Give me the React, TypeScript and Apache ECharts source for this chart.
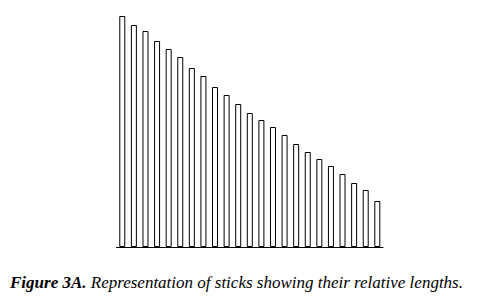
import React, { useEffect, useRef } from "react";
import * as echarts from "echarts";

const stickLabels: string[] = Array.from({ length: 23 }, (_, i) => `S${i + 1}`);
const stickLengths: number[] = [
  231, 222, 216, 206, 198, 190, 179, 171, 160, 152, 143, 134, 127, 120, 112, 103, 95, 88, 81, 73, 64, 57, 46,
];
const captionBold = "Figure 3A.";
const captionText = " Representation of sticks showing their relative lengths.";

const SERIF = "Liberation Serif";

function measure(text: string, font: string): number {
  const c = document.createElement("canvas").getContext("2d");
  if (!c) return text.length * 7;
  c.font = font;
  return c.measureText(text).width;
}

export default function App() {
  const ref = useRef<HTMLDivElement>(null);
  useEffect(() => {
    if (!ref.current) return;
    const chart = echarts.init(ref.current, undefined, { renderer: "svg" });
    // choose font size so the caption spans the same width as in the reference
    const target = 453;
    const base = 15;
    const w0 =
      measure(captionBold, `italic bold ${base}px "${SERIF}"`) +
      measure(captionText, `italic normal ${base}px "${SERIF}"`);
    const fs = Math.max(12, Math.min(18, (base * target) / (w0 || target)));
    const boldW = measure(captionBold, `italic bold ${fs}px "${SERIF}"`);
    const top = 289 - fs * 0.891 + 0.5;
    chart.setOption({
      animation: false,
      backgroundColor: "#ffffff",
      graphic: [
        {
          type: "text",
          left: 10,
          top: top,
          style: {
            text: captionBold,
            fontFamily: SERIF,
            fontStyle: "italic",
            fontWeight: "bold",
            fontSize: fs,
            fill: "#000",
          },
        },
        {
          type: "text",
          left: 10 + boldW,
          top: top,
          style: {
            text: captionText,
            fontFamily: SERIF,
            fontStyle: "italic",
            fontWeight: "normal",
            fontSize: fs,
            fill: "#000",
          },
        },
      ],
      grid: { left: 116.5, top: 16, width: 266.6, height: 231, containLabel: false },
      xAxis: {
        type: "category",
        data: stickLabels,
        axisLine: { show: true, lineStyle: { color: "#000", width: 1 } },
        axisTick: { show: false },
        axisLabel: { show: false },
        splitLine: { show: false },
      },
      yAxis: {
        type: "value",
        min: 0,
        max: 231,
        show: false,
        splitLine: { show: false },
      },
      series: [
        {
          type: "bar",
          data: stickLengths,
          barWidth: 6,
          itemStyle: { color: "#ffffff", borderColor: "#000000", borderWidth: 1 },
          silent: true,
        },
      ],
    });
    return () => chart.dispose();
  }, []);
  return (
    <div
      ref={ref}
      style={{ position: "absolute", left: 0, top: 0, width: 488, height: 306 }}
    />
  );
}
